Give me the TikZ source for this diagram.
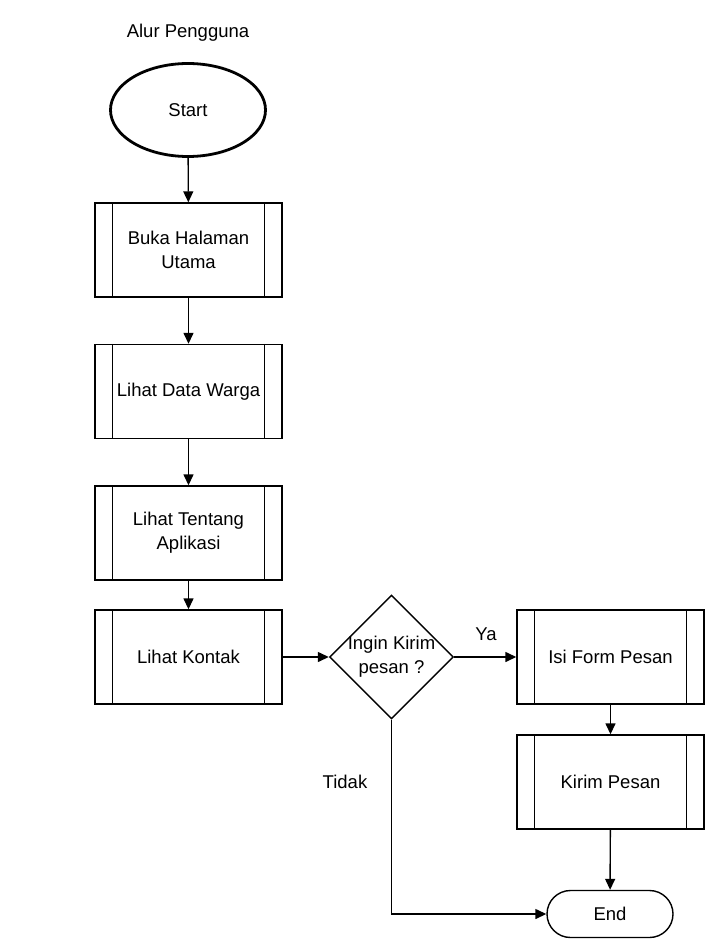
\documentclass[tikz,border=0pt]{standalone}
\usepackage{fontspec}
\setmainfont{Liberation Sans}
\usetikzlibrary{shapes.geometric,shapes.misc,arrows.meta}
\begin{document}
\begin{tikzpicture}[x=1pt,y=-1pt,
  lbl/.style={font=\fontsize{18.5}{24}\selectfont, align=center, inner sep=0pt},
  proc/.style={draw, line width=1.4pt, minimum width=187pt, minimum height=94pt, lbl},
  arr/.style={line width=1.4pt, -{Triangle[length=11pt,width=10pt]}},
  ln/.style={line width=1.4pt}
  ]
\useasboundingbox (0,0) rectangle (705,939);
\node[lbl] (title) at (188,33) {Alur Pengguna};
\node[draw, ellipse, line width=2.8pt, minimum width=155pt, minimum height=93pt, lbl] (start) at (188,110) {Start};
\node[proc] (buka) at (188.5,250) {Buka Halaman\\Utama};
\node[proc] (data) at (188.5,391.5) {Lihat Data Warga};
\node[proc] (tentang) at (188.5,533) {Lihat Tentang\\Aplikasi};
\node[proc] (kontak) at (188.5,657) {Lihat Kontak};
\node[proc] (isi) at (610.5,657) {Isi Form Pesan};
\node[proc] (kirim) at (610.5,782) {Kirim Pesan};
\foreach \n in {buka,data,tentang,kontak,isi,kirim}{
  \draw[ln] ([xshift=18pt]\n.north west) -- ([xshift=18pt]\n.south west);
  \draw[ln] ([xshift=-18pt]\n.north east) -- ([xshift=-18pt]\n.south east);
}
\node[draw, diamond, line width=1.4pt, minimum width=124pt, minimum height=124pt, inner sep=0pt] (dec) at (391.5,657) {};
\node[lbl] (dect) at (dec.center) {Ingin Kirim\\pesan ?};
\node[draw, rounded rectangle, line width=1.4pt, minimum width=126pt, minimum height=47pt, lbl] (end) at (610,914) {End};
\node[lbl] (ya) at (486,634) {Ya};
\node[lbl] (tidak) at (345,782) {Tidak};
\coordinate (corner) at (dec.south |- end.west);

\draw[arr] (start) -- (buka);
\draw[arr] (buka) -- (data);
\draw[arr] (data) -- (tentang);
\draw[arr] (tentang) -- (kontak);
\draw[arr] (kontak) -- (dec);
\draw[arr] (dec) -- (isi);
\draw[arr] (isi) -- (kirim);
\draw[arr] (kirim) -- (end);
\draw[arr] (dec.south) -- (corner) -- (end.west);
\end{tikzpicture}
\end{document}
